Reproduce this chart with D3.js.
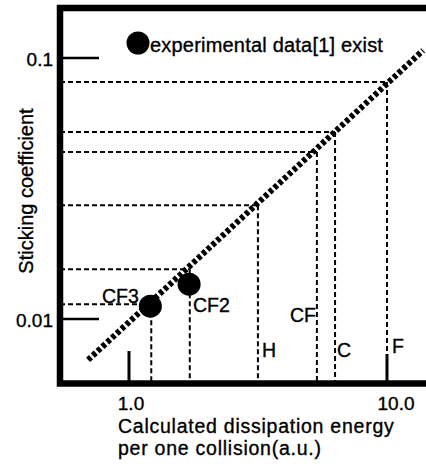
<!DOCTYPE html>
<html>
<head>
<meta charset="utf-8">
<script src="https://cdn.jsdelivr.net/npm/d3@7"></script>
<style>
  body { margin: 0; background: #fff; }
  svg { display: block; }
  text { font-family: "Liberation Sans", Arial, sans-serif; fill: #000; stroke: #000; stroke-width: 0.35; }
</style>
</head>
<body>
<div id="chart"></div>
<script>
var svgWidth = 426;
var svgHeight = 464;

// calculated values, one per species
var species = ["CF3", "CF2", "H", "CF", "C", "F"];
var energy = [1.22, 1.72, 3.16, 5.35, 6.29, 10.0];
var sticking = [0.0114, 0.0155, 0.0273, 0.0436, 0.052, 0.081];

// points where experimental data exist
var expEnergy = [1.21, 1.71];
var expSticking = [0.0112, 0.0136];

// fitted trend line ends
var fitEnergy = [0.694, 13.8];
var fitSticking = [0.00697, 0.107];

var xTicks = [1, 10];
var xTickLabels = ["1.0", "10.0"];
var yTicks = [0.1, 0.01];
var yTickLabels = ["0.1", "0.01"];

var svg = d3.select("#chart")
  .append("svg")
  .attr("width", svgWidth)
  .attr("height", svgHeight);

var x = d3.scaleLog().domain([1, 10]).range([129, 387]);
var y = d3.scaleLog().domain([0.01, 0.1]).range([319, 58]);

var frameLeft = 60, frameTop = 8, frameBottom = 383.5;

// dashed guide lines
species.forEach(function(s, i) {
  svg.append("line")
    .attr("x1", frameLeft).attr("x2", x(energy[i]))
    .attr("y1", y(sticking[i])).attr("y2", y(sticking[i]))
    .attr("stroke", "#000").attr("stroke-width", 2)
    .attr("stroke-dasharray", "5,3");
  svg.append("line")
    .attr("x1", x(energy[i])).attr("x2", x(energy[i]))
    .attr("y1", y(sticking[i])).attr("y2", frameBottom)
    .attr("stroke", "#000").attr("stroke-width", 2)
    .attr("stroke-dasharray", "5,3");
});

// trend line
svg.append("line")
  .attr("x1", x(fitEnergy[0])).attr("y1", y(fitSticking[0]))
  .attr("x2", x(fitEnergy[1])).attr("y2", y(fitSticking[1]))
  .attr("stroke", "#000").attr("stroke-width", 6)
  .attr("stroke-dasharray", "4,2.5");

// frame
svg.append("path")
  .attr("d", "M430," + frameTop + "H" + frameLeft + "V" + frameBottom + "H430")
  .attr("fill", "none")
  .attr("stroke", "#000")
  .attr("stroke-width", 6.5);

// ticks
yTicks.forEach(function(t, i) {
  svg.append("line")
    .attr("x1", frameLeft).attr("x2", 99)
    .attr("y1", y(t)).attr("y2", y(t))
    .attr("stroke", "#000").attr("stroke-width", 2.5);
  svg.append("text")
    .attr("x", 53).attr("y", y(t) + 7.5)
    .attr("text-anchor", "end")
    .attr("font-size", 19)
    .text(yTickLabels[i]);
});

xTicks.forEach(function(t, i) {
  svg.append("line")
    .attr("x1", x(t)).attr("x2", x(t))
    .attr("y1", frameBottom).attr("y2", t == 1 ? 351 : 354)
    .attr("stroke", "#000").attr("stroke-width", 3);
  svg.append("text")
    .attr("x", x(t) + (i == 0 ? 2 : 9)).attr("y", 410)
    .attr("text-anchor", "middle")
    .attr("font-size", 19)
    .text(xTickLabels[i]);
});

// experimental points
svg.selectAll(".exp")
  .data(expEnergy)
  .enter()
  .append("circle")
  .attr("cx", function(d) { return x(d); })
  .attr("cy", function(d, i) { return y(expSticking[i]); })
  .attr("r", 11.5)
  .attr("fill", "#000");

// species labels
var labelPos = {
  CF3: [102, 303], CF2: [193, 312], H: [262, 357],
  CF: [290, 322], C: [337, 357], F: [392, 353]
};
species.forEach(function(s) {
  svg.append("text")
    .attr("x", labelPos[s][0]).attr("y", labelPos[s][1])
    .attr("font-size", 19.5)
    .text(s);
});

// legend
svg.append("circle")
  .attr("cx", 138).attr("cy", 43).attr("r", 11.5).attr("fill", "#000");
svg.append("text")
  .attr("x", 150).attr("y", 52)
  .attr("font-size", 20)
  .attr("letter-spacing", 0.2)
  .text("experimental data[1] exist");

// axis titles
svg.append("text")
  .attr("x", 118).attr("y", 433)
  .attr("font-size", 19.5)
  .attr("letter-spacing", 0.75)
  .text("Calculated dissipation energy");
svg.append("text")
  .attr("x", 118).attr("y", 455)
  .attr("font-size", 19.5)
  .attr("letter-spacing", 0.75)
  .text("per one collision(a.u.)");

svg.append("text")
  .attr("transform", "translate(33,191) rotate(-90)")
  .attr("text-anchor", "middle")
  .attr("font-size", 20)
  .text("Sticking coefficient");
</script>
</body>
</html>
